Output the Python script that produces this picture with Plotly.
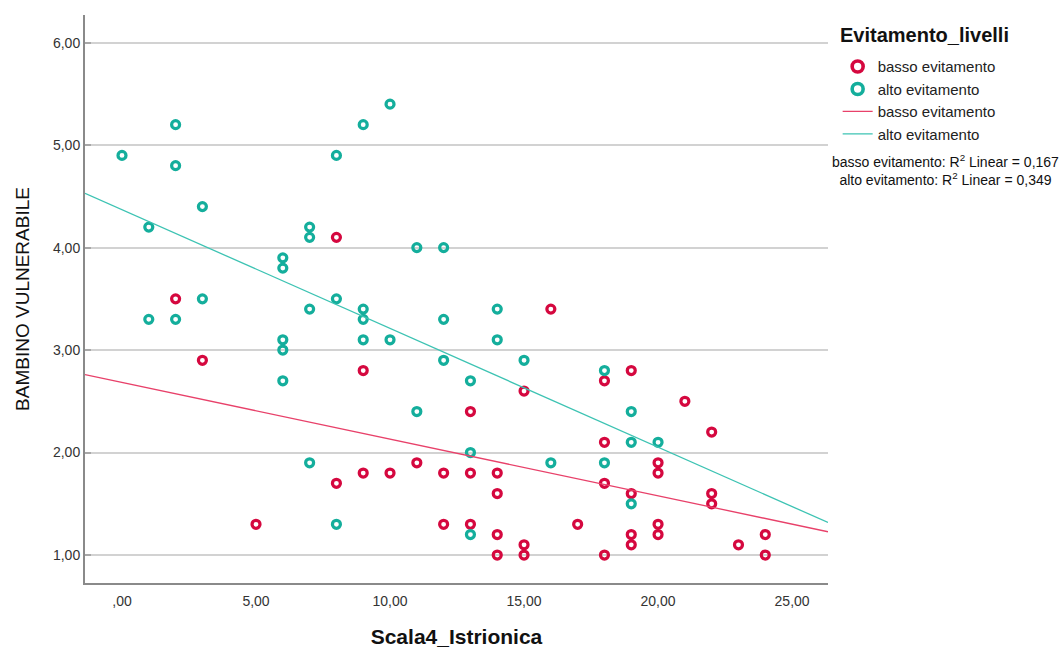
import numpy as np
import plotly.graph_objects as go

# Data
basso_x = [2, 3, 5, 8, 8, 9, 9, 10, 11, 12, 12, 13, 13, 13, 14, 14, 14, 14, 15, 15, 15,
           16, 17, 18, 18, 18, 18, 19, 19, 19, 19, 20, 20, 20, 20, 21, 22, 22, 22, 23, 24, 24]
basso_y = [3.5, 2.9, 1.3, 4.1, 1.7, 2.8, 1.8, 1.8, 1.9, 1.8, 1.3, 2.4, 1.8, 1.3, 1.8, 1.6, 1.2, 1.0,
           2.6, 1.1, 1.0, 3.4, 1.3, 2.7, 2.1, 1.7, 1.0, 2.8, 1.6, 1.2, 1.1, 1.9, 1.8, 1.3, 1.2,
           2.5, 2.2, 1.6, 1.5, 1.1, 1.2, 1.0]

alto_x = [0, 1, 1, 2, 2, 2, 3, 3, 6, 6, 6, 6, 6, 7, 7, 7, 7, 8, 8, 8, 9, 9, 9, 9, 10, 10,
          11, 11, 12, 12, 12, 13, 13, 13, 14, 14, 15, 16, 18, 18, 19, 19, 19, 20]
alto_y = [4.9, 4.2, 3.3, 5.2, 4.8, 3.3, 4.4, 3.5, 3.9, 3.8, 3.1, 3.0, 2.7, 4.2, 4.1, 3.4, 1.9,
          4.9, 3.5, 1.3, 5.2, 3.4, 3.3, 3.1, 5.4, 3.1, 4.0, 2.4, 4.0, 3.3, 2.9, 2.7, 2.0, 1.2,
          3.4, 3.1, 2.9, 1.9, 2.8, 1.9, 2.4, 2.1, 1.5, 2.1]

x_tickvals = [0, 5, 10, 15, 20, 25]
x_ticktext = [",00", "5,00", "10,00", "15,00", "20,00", "25,00"]
y_tickvals = [1, 2, 3, 4, 5, 6]
y_ticktext = ["1,00", "2,00", "3,00", "4,00", "5,00", "6,00"]

legend_title = "Evitamento_livelli"
series_names = ["basso evitamento", "alto evitamento"]
r2_values = ["0,167", "0,349"]

X_RANGE = [-1.38, 26.34]
Y_RANGE = [0.727, 6.27]

RED = "#D5083F"
TEAL = "#14AE9C"
RED_LINE = "#E8416A"
TEAL_LINE = "#3DC3B3"
FONT = "Liberation Sans, Arial, sans-serif"

fig = go.Figure()

# scatter points (legend entries come from the legend-only marker traces below)
for xs, ys, name, col in [(basso_x, basso_y, series_names[0], RED),
                          (alto_x, alto_y, series_names[1], TEAL)]:
    fig.add_trace(go.Scatter(x=xs, y=ys, mode="markers", name=name, showlegend=False,
                             marker=dict(symbol="circle-open", size=8, color=col,
                                         line=dict(width=3.2, color=col))))

# legend marker entries (larger rings, as in the reference legend)
for name, col in [(series_names[0], RED), (series_names[1], TEAL)]:
    fig.add_trace(go.Scatter(x=[None], y=[None], mode="markers", name=name,
                             marker=dict(symbol="circle-open", size=11, color=col,
                                         line=dict(width=3.6, color=col))))

# linear fit lines
xs_line = np.array(X_RANGE)
for xs, ys, name, col in [(basso_x, basso_y, series_names[0], RED_LINE),
                          (alto_x, alto_y, series_names[1], TEAL_LINE)]:
    slope, intercept = np.polyfit(xs, ys, 1)
    fig.add_trace(go.Scatter(x=xs_line, y=slope * xs_line + intercept, mode="lines",
                             name=name, line=dict(color=col, width=1.3)))

fig.update_layout(
    width=1064, height=648,
    margin=dict(l=85, r=236, t=15, b=65, autoexpand=False),
    paper_bgcolor="white", plot_bgcolor="white",
    separators=",.",
    font=dict(family=FONT, color="#222"),
    showlegend=True,
    legend=dict(
        x=1.013, y=0.938, xanchor="left", yanchor="top",
        font=dict(size=15, color="#222"),
        itemsizing="trace", tracegroupgap=0, itemwidth=30,
        bgcolor="rgba(0,0,0,0)",
    ),
    xaxis=dict(
        range=X_RANGE, tickvals=x_tickvals, ticktext=x_ticktext, automargin=False,
        showgrid=False, zeroline=False, showline=True, linecolor="#8a8a8a", linewidth=2,
        ticks="", ticklabelstandoff=4, tickfont=dict(size=14, color="#333"),
        title=dict(text="<b>Scala4_Istrionica</b>", font=dict(size=21, color="#111"), standoff=24),
    ),
    yaxis=dict(
        range=Y_RANGE, tickvals=y_tickvals, ticktext=y_ticktext, automargin=False,
        showgrid=True, gridcolor="#d2d2d2", gridwidth=1.6,
        zeroline=False, showline=True, linecolor="#8a8a8a", linewidth=2,
        ticks="inside", ticklen=6, tickcolor="#a8a8a8", tickwidth=1.5,
        tickfont=dict(size=14, color="#333"),
        title=dict(text="BAMBINO VULNERABILE", font=dict(size=19, color="#111"), standoff=18),
    ),
)

# legend title
fig.add_annotation(
    xref="paper", yref="paper", x=1.0135, y=0.964, xanchor="left", yanchor="middle",
    showarrow=False, text=f"<b>{legend_title}</b>", font=dict(size=20, color="#111"),
)

# R² summary
fig.add_annotation(
    xref="paper", yref="paper", x=1.158, y=0.727, xanchor="center", yanchor="middle",
    showarrow=False, align="center",
    text=(f"{series_names[0]}: R<sup>2</sup> Linear = {r2_values[0]}<br>"
          f"{series_names[1]}: R<sup>2</sup> Linear = {r2_values[1]}"),
    font=dict(size=14, color="#111"),
)

fig.write_html("out.html", config={"displayModeBar": False},
               post_script="document.body.style.margin='0';")
